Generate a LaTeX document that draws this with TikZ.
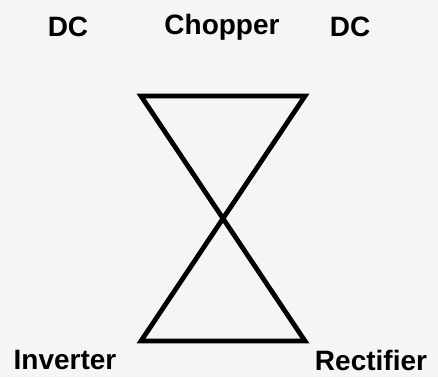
\documentclass[tikz,border=0pt]{standalone}
\usepackage{fontspec}
\setmainfont{Liberation Sans}
\usepackage{tikz}
\usetikzlibrary{positioning}

\begin{document}
\begin{tikzpicture}[x=1pt, y=-1pt,
    label/.style={font=\fontsize{28}{30}\selectfont\bfseries, inner sep=0pt}]

    % =================================================================
    % 1. KHUNG HÌNH (nền xám nhạt)
    % =================================================================
    \fill[black!4] (0,0) rectangle (438,377);
    \useasboundingbox (0,0) rectangle (438,377);

    % =================================================================
    % 2. CÁC ĐỈNH CỦA ĐỒNG HỒ CÁT
    % =================================================================
    \coordinate (TopLeft) at (141,96);
    \coordinate (TopRight) at (305,96);
    \coordinate (BottomLeft) at (141,341);
    \coordinate (BottomRight) at (305,341);

    % Hai tam giác chạm nhau ở giữa
    \draw[line width=4.8pt, line join=miter]
        (TopLeft) -- (TopRight) -- (BottomLeft) -- (BottomRight) -- cycle;

    % =================================================================
    % 3. NHÃN CHỮ
    % =================================================================
    \node[label] (DCLeft) at (68,27) {DC};
    \node[label] (Chopper) at (222,27) {Chopper};
    \node[label] (DCRight) at (350,27) {DC};
    \node[label] (Inverter) at (65,360) {Inverter};
    \node[label] (Rectifier) at (371,360) {Rectifier};

\end{tikzpicture}
\end{document}
